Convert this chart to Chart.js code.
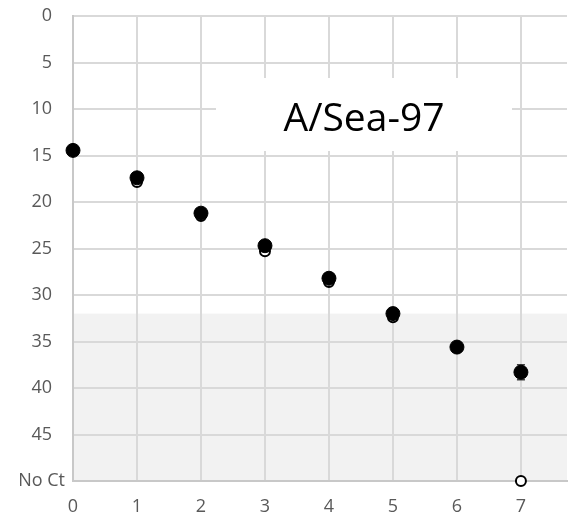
<!DOCTYPE html>
<html>
<head>
<meta charset="utf-8">
<script src="https://cdn.jsdelivr.net/npm/chart.js@4.4.1/dist/chart.umd.min.js"></script>
<style>
    html, body { margin: 0; padding: 0; background: #ffffff; }
    #grafico { display: block; }
</style>
</head>
<body>
<canvas id="grafico" width="568" height="517"></canvas>
<script>
// dilutions (x) and Ct values, 50 = no Ct
var diluicoes = [0, 1, 2, 3, 4, 5, 6, 7];
var ctCheio = [14.45, 17.4, 21.2, 24.7, 28.2, 32.0, 35.6, 38.3];
var erroCheio = [0.2, 0.3, 0.2, 0.3, 0.3, 0.3, 0.3, 0.8];
var ctAberto = [14.45, 17.85, 21.5, 25.3, 28.6, 32.4, 35.7, 50];
var yTicks = [0, 5, 10, 15, 20, 25, 30, 35, 40, 45, 50];
var semCt = 'No Ct';
var limiteCinza = 32;
var titulo = 'A/Sea-97';

var corTexto = '#595959';
var fonte = "'Open Sans', sans-serif";

function pontos(valores) {
    return diluicoes.map(function (x, i) { return { x: x, y: valores[i] }; });
}

// grey band behind the grid, from the cutoff down to No Ct
var faixaCinza = {
    id: 'faixaCinza',
    beforeDraw: function (chart) {
        var ctx = chart.ctx;
        var area = chart.chartArea;
        var y = chart.scales.y;
        var topo = y.getPixelForValue(limiteCinza);
        var base = y.getPixelForValue(50);
        ctx.save();
        ctx.fillStyle = '#f2f2f2';
        ctx.fillRect(area.left, topo, area.right - area.left, base - topo);
        ctx.restore();
    }
};

// white label box with the virus name, plus error bars and No Ct label
var extras = {
    id: 'extras',
    beforeDatasetsDraw: function (chart) {
        var ctx = chart.ctx;
        var x = chart.scales.x;
        var y = chart.scales.y;

        ctx.save();
        ctx.fillStyle = '#ffffff';
        ctx.fillRect(216, 78, 296, 73);
        ctx.fillStyle = '#000000';
        ctx.font = '39px ' + fonte;
        ctx.textAlign = 'center';
        ctx.textBaseline = 'alphabetic';
        ctx.fillText(titulo, 364, 131);

        ctx.strokeStyle = '#404040';
        ctx.lineWidth = 1.5;
        for (var i = 0; i < diluicoes.length; i++) {
            var px = x.getPixelForValue(diluicoes[i]);
            var y1 = y.getPixelForValue(ctCheio[i] - erroCheio[i]);
            var y2 = y.getPixelForValue(ctCheio[i] + erroCheio[i]);
            ctx.beginPath();
            ctx.moveTo(px, y1); ctx.lineTo(px, y2);
            ctx.moveTo(px - 4, y1); ctx.lineTo(px + 4, y1);
            ctx.moveTo(px - 4, y2); ctx.lineTo(px + 4, y2);
            ctx.stroke();
        }

        ctx.fillStyle = corTexto;
        ctx.font = '18px ' + fonte;
        ctx.textAlign = 'right';
        ctx.textBaseline = 'middle';
        ctx.fillText(semCt, 65, y.getPixelForValue(50));
        ctx.restore();
    }
};

var ctx = document.getElementById('grafico').getContext('2d');
var grafico = new Chart(ctx, {
    type: 'scatter',
    data: {
        datasets: [{
            label: 'cheio',
            data: pontos(ctCheio),
            clip: false,
            pointRadius: 7,
            pointBorderWidth: 1,
            pointBackgroundColor: '#000000',
            pointBorderColor: '#000000'
        }, {
            label: 'aberto',
            data: pontos(ctAberto),
            clip: false,
            pointRadius: 5,
            pointBorderWidth: 2,
            pointBackgroundColor: '#ffffff',
            pointBorderColor: '#000000'
        }]
    },
    options: {
        responsive: false,
        animation: false,
        events: [],
        layout: {
            autoPadding: false,
            padding: { top: 16, right: 1, left: 0, bottom: 0 }
        },
        plugins: {
            legend: { display: false },
            tooltip: { enabled: false }
        },
        scales: {
            x: {
                type: 'linear',
                min: 0,
                max: 7.72,
                afterBuildTicks: function (scale) {
                    scale.ticks = diluicoes.map(function (v) { return { value: v }; });
                },
                afterFit: function (scale) {
                    scale.height = 36;
                    scale.paddingLeft = 0;
                    scale.paddingRight = 0;
                },
                grid: {
                    color: '#d9d9d9',
                    lineWidth: 2,
                    drawTicks: false
                },
                border: { color: '#c8c8c8', width: 2 },
                ticks: {
                    padding: 15,
                    color: corTexto,
                    font: { family: fonte, size: 18 }
                }
            },
            y: {
                type: 'linear',
                min: 0,
                max: 50,
                reverse: true,
                afterBuildTicks: function (scale) {
                    scale.ticks = yTicks.map(function (v) { return { value: v }; });
                },
                afterFit: function (scale) {
                    scale.width = 73;
                    scale.paddingTop = 0;
                    scale.paddingBottom = 0;
                },
                grid: {
                    color: '#d9d9d9',
                    lineWidth: 2,
                    drawTicks: false
                },
                border: { color: '#c8c8c8', width: 2 },
                ticks: {
                    padding: 21,
                    color: corTexto,
                    font: { family: fonte, size: 18 },
                    callback: function (value) {
                        return value === 50 ? '' : value;
                    }
                }
            }
        }
    },
    plugins: [faixaCinza, extras]
});
</script>
</body>
</html>
